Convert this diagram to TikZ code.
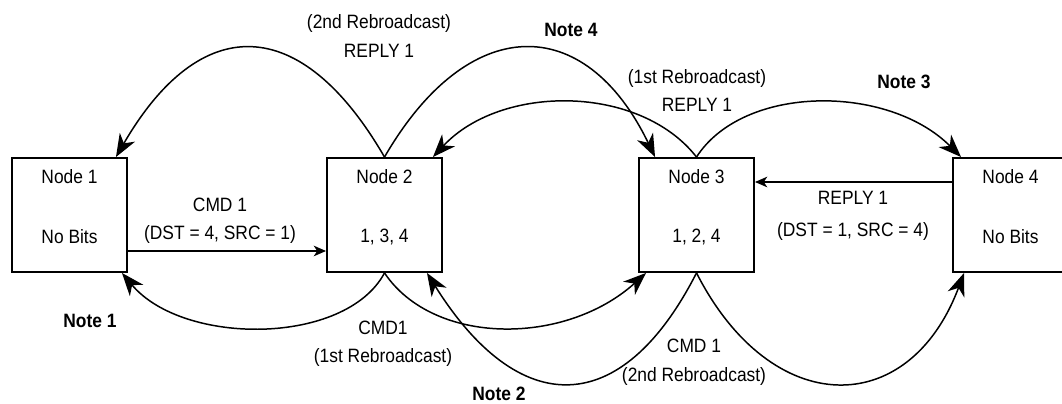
\documentclass[tikz,border=0pt]{standalone}
\usepackage{fontspec}
\setmainfont[FakeStretch=0.9]{Liberation Sans}
\usetikzlibrary{arrows.meta, positioning, calc}

\tikzset{
	nbox/.style={draw, line width=1.1pt, minimum width=2.3cm, minimum height=2.28cm, inner sep=0pt},
	hop/.style={-{Stealth[length=13pt,width=10pt,inset=4pt]}, line width=0.85pt},
	link/.style={-{Stealth[length=7pt,width=6pt,inset=2pt]}, line width=1.1pt},
	note/.style={font=\fontsize{11pt}{13pt}\selectfont\bfseries},
	txt/.style={align=center}
}

\begin{document}
\begin{tikzpicture}[x=0.02cm, y=-0.02cm, font=\fontsize{11pt}{13pt}\selectfont]

		\useasboundingbox (0,0) rectangle (1062,404);
		\clip (0,0) rectangle (1062,404);

		% the four nodes
		\node[nbox] (n1) at (69.5,215) {};
		\node[nbox] (n2) at (384.5,215) {};
		\node[nbox] (n3) at (696.5,215) {};
		\node[nbox] (n4) at (1010.5,215) {};

		\node (n1name) at ($(n1.north)+(0,20)$) {Node 1};
		\node (n1bits) at ($(n1.north)+(0,80)$) {No Bits};
		\node (n2name) at ($(n2.north)+(0,20)$) {Node 2};
		\node (n2bits) at ($(n2.north)+(0,80)$) {1, 3, 4};
		\node (n3name) at ($(n3.north)+(0,20)$) {Node 3};
		\node (n3bits) at ($(n3.north)+(0,80)$) {1, 2, 4};
		\node (n4name) at ($(n4.north)+(0,20)$) {Node 4};
		\node (n4bits) at ($(n4.north)+(0,80)$) {No Bits};

		% direct messages
		\draw[link] ($(n1.east)+(0,36)$) -- ($(n2.west)+(0,36)$);
		\draw[link] ($(n4.west)+(0,-33)$) -- ($(n3.east)+(0,-33)$);
		\node[txt] (cmdlab) at (220,221) {CMD 1\\[3pt](DST = 4, SRC = 1)};
		\node[txt] (replylab) at (853,216) {REPLY 1\\[5pt](DST = 1, SRC = 4)};

		% rebroadcasts over the top
		\draw[hop] (n2.north) .. controls +(-84,-145) and +(84,-145) .. ($(n1.north east)+(-12,0)$);
		\draw[hop] (n2.north) .. controls +(84,-145) and +(-70,-145) .. ($(n3.north west)+(17,0)$);
		\draw[hop] (n3.north) .. controls +(-57,-73) and +(68,-73) .. ($(n2.north east)+(-10,0)$);
		\draw[hop] (n3.north) .. controls +(47,-73) and +(-73,-73) .. ($(n4.north west)+(9,0)$);

		% rebroadcasts underneath
		\draw[hop] (n2.south) .. controls +(-39,73) and +(61,73) .. ($(n1.south east)+(-6,0)$);
		\draw[hop] (n2.south) .. controls +(49,73) and +(-81,73) .. ($(n3.south west)+(8,0)$);
		\draw[hop] (n3.south) .. controls +(-75,147) and +(92,147) .. ($(n2.south east)+(-16,0)$);
		\draw[hop] (n3.south) .. controls +(75,147) and +(-55,147) .. ($(n4.south west)+(12,0)$);

		\node[txt] (reply2nd) at (379,36) {(2nd Rebroadcast)\\[3pt]REPLY 1};
		\node[txt] (reply1st) at (697,90.5) {(1st Rebroadcast)\\[3.5pt]REPLY 1};
		\node[txt] (cmd1st) at (383,344) {CMD1\\[3pt](1st Rebroadcast)};
		\node[txt] (cmd2nd) at (694,362.5) {CMD 1\\[3.5pt](2nd Rebroadcast)};

		\node[note] (note1) at (90,321) {Note 1};
		\node[note] (note2) at (499,394) {Note 2};
		\node[note] (note3) at (904,82) {Note 3};
		\node[note] (note4) at (571,30) {Note 4};
	\end{tikzpicture}
\end{document}
